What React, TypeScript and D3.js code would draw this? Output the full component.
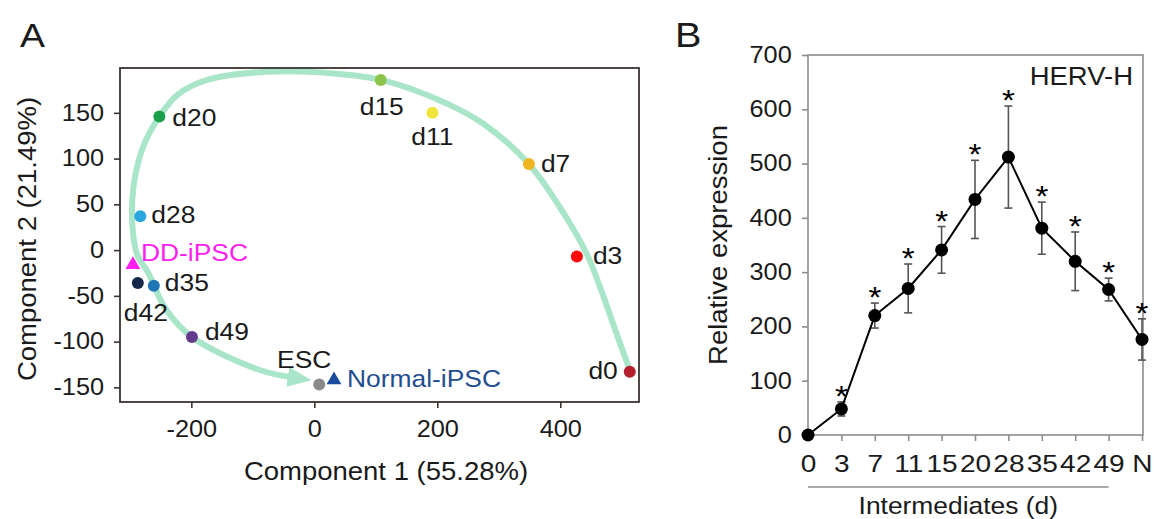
import React, { useEffect, useRef } from "react";
import * as d3 from "d3";

// A: PCA of the reprogramming time course
const samples = ["d0", "d3", "d7", "d11", "d15", "d20", "d28", "d35", "d42", "d49", "ESC", "DD-iPSC", "Normal-iPSC"];
const comp1 = [513, 427, 349, 192, 108, -252, -283, -261, -287, -199, 8, -295, 32];
const comp2 = [-133, -7, 94, 150, 186, 146, 37, -39, -36, -95, -147, -16, -142];
const sampleColors = ["#b3202b", "#fe0b0b", "#f1b522", "#f0e53c", "#8cc44b", "#1c9f4b", "#2aa6e1", "#1f76b4", "#16284a", "#643b8d", "#8a8a8a", "#ff1df0", "#1b4b9c"];
const triangleSamples = ["DD-iPSC", "Normal-iPSC"];
const xTicksA = [-200, 0, 200, 400];
const yTicksA = [-150, -100, -50, 0, 50, 100, 150];

// trajectory arrow (hand drawn in the original figure)
const trajC1 = [514, 494, 465, 445, 414, 349, 275, 216, 162, 108, 13, -78, -174, -222, -252, -280, -296, -289, -270, -241, -199, -89, -27];
const trajC2 = [-133, -96, -41, -7, 31, 94, 138, 160, 175, 186, 194, 195, 186, 170, 146, 110, 55, -3, -25, -65, -95, -131, -140];

// B: HERV-H expression
const days = ["0", "3", "7", "11", "15", "20", "28", "35", "42", "49", "N"];
const expression = [0, 48, 220, 270, 341, 434, 512, 381, 320, 268, 176];
const errors = [0, 13, 23, 45, 43, 72, 94, 48, 54, 21, 38];
const significant = [false, true, true, true, true, true, true, true, true, true, true];
const yTicksB = [0, 100, 200, 300, 400, 500, 600, 700];

const FONT = "'Liberation Sans', Arial, Helvetica, sans-serif";
const SX = 1.1; // the figure's lettering is a bit wider than Arial

// label offsets from the marker: dx, dy, anchor
const placement: Record<string, [number, number, string]> = {
  d0: [-12, 7, "end"],
  d3: [16, 7, "start"],
  d7: [12, 8, "start"],
  d11: [0, 32, "middle"],
  d15: [1, 35, "middle"],
  d20: [13, 10, "start"],
  d28: [11, 7, "start"],
  d35: [11, 5, "start"],
  d42: [8, 38, "middle"],
  d49: [13, 3, "start"],
  ESC: [-15, -17, "middle"],
  "DD-iPSC": [8, -4, "start"],
  "Normal-iPSC": [13, 7, "start"],
};

function label(g: any, txt: string, x: number, y: number, o: any = {}) {
  g.append("text")
    .attr("transform", `translate(${x},${y})${o.rotate ? " rotate(-90)" : ""} scale(${SX},1)`)
    .attr("text-anchor", o.anchor || "start")
    .attr("font-family", FONT)
    .attr("font-size", o.size || 24)
    .attr("fill", o.fill || "#1a1a1a")
    .text(txt);
}

function styleAxis(ax: any, color: string, sx = SX) {
  ax.select(".domain").remove();
  ax.selectAll("line").attr("stroke", color).attr("stroke-width", 1.6);
  ax.selectAll("text")
    .attr("font-family", FONT)
    .attr("font-size", 23)
    .attr("fill", "#1a1a1a")
    .attr("transform", `scale(${sx},1)`);
}

const plain = (d: any) => String(d);

export default function App() {
  const ref = useRef<SVGSVGElement>(null);

  useEffect(() => {
    const svg = d3.select(ref.current);
    svg.selectAll("*").remove();

    // ---------- panel A ----------
    const xA = d3.scaleLinear().domain([-316, 528]).range([120, 639]);
    const yA = d3.scaleLinear().domain([-166, 199]).range([402, 68]);
    const gA = svg.append("g");
    const boxA = "#3b3431";

    svg.append("defs")
      .append("marker")
      .attr("id", "arrow")
      .attr("markerUnits", "userSpaceOnUse")
      .attr("viewBox", "0 0 24 20")
      .attr("markerWidth", 24)
      .attr("markerHeight", 20)
      .attr("refX", 10)
      .attr("refY", 10)
      .attr("orient", "auto")
      .append("path")
      .attr("d", "M0,0 L24,10 L0,20 Z")
      .attr("fill", "#a9e6c9");

    const traj = trajC1.map((c, i) => [c, trajC2[i]] as [number, number]);
    const line = d3
      .line<[number, number]>()
      .x(d => xA(d[0]))
      .y(d => yA(d[1]))
      .curve(d3.curveCatmullRom.alpha(0.5));
    gA.append("path")
      .attr("d", line(traj))
      .attr("fill", "none")
      .attr("stroke", "#a9e6c9")
      .attr("stroke-width", 6)
      .attr("stroke-linecap", "round")
      .attr("marker-end", "url(#arrow)");

    gA.append("rect")
      .attr("x", 120)
      .attr("y", 68)
      .attr("width", 519)
      .attr("height", 334)
      .attr("fill", "none")
      .attr("stroke", boxA)
      .attr("stroke-width", 1.8);

    const axB = gA
      .append("g")
      .attr("transform", "translate(0,402)")
      .call(d3.axisBottom(xA).tickValues(xTicksA).tickFormat(plain).tickSize(6).tickPadding(12.7));
    styleAxis(axB, boxA);
    const axL = gA
      .append("g")
      .attr("transform", "translate(120,0)")
      .call(d3.axisLeft(yA).tickValues(yTicksA).tickFormat(plain).tickSize(6).tickPadding(8.5));
    styleAxis(axL, boxA);

    samples.forEach((s, i) => {
      const px = xA(comp1[i]);
      const py = yA(comp2[i]);
      if (triangleSamples.includes(s)) {
        gA.append("path")
          .attr("d", d3.symbol(d3.symbolTriangle, 95)())
          .attr("transform", `translate(${px},${py})`)
          .attr("fill", sampleColors[i]);
      } else {
        gA.append("circle").attr("cx", px).attr("cy", py).attr("r", 6).attr("fill", sampleColors[i]);
      }
      const [dx, dy, anchor] = placement[s];
      const fill = s === "DD-iPSC" ? "#ff1df0" : s === "Normal-iPSC" ? "#1f4e8f" : "#1a1a1a";
      label(gA, s, px + dx, py + dy, { anchor, fill, size: 24 });
    });

    label(gA, "Component 1 (55.28%)", 386, 480, { anchor: "middle", size: 25 });
    label(gA, "Component 2 (21.49%)", 36, 239, { anchor: "middle", size: 25, rotate: true });
    label(gA, "A", 20, 47, { size: 34 });

    // ---------- panel B ----------
    const xB = d3.scalePoint().domain(days).range([808, 1142]);
    const yB = d3.scaleLinear().domain([0, 700]).range([435, 55]);
    const gB = svg.append("g");
    const grey = "#8d8d8d";

    gB.append("rect")
      .attr("x", 808)
      .attr("y", 55)
      .attr("width", 335)
      .attr("height", 380)
      .attr("fill", "none")
      .attr("stroke", grey)
      .attr("stroke-width", 1.6);

    const bx = gB
      .append("g")
      .attr("transform", "translate(0,435)")
      .call(d3.axisBottom(xB).tickSize(6).tickPadding(14.7));
    styleAxis(bx, grey, 1.22);
    const by = gB
      .append("g")
      .attr("transform", "translate(808,0)")
      .call(d3.axisLeft(yB).tickValues(yTicksB).tickFormat(plain).tickSize(6).tickPadding(8.8));
    styleAxis(by, grey);

    days.forEach((d, i) => {
      if (!errors[i]) return;
      const cx = xB(d)!;
      const top = yB(expression[i] + errors[i]);
      const bot = yB(expression[i] - errors[i]);
      gB.append("line").attr("x1", cx).attr("x2", cx).attr("y1", top).attr("y2", bot).attr("stroke", "#555").attr("stroke-width", 1.6);
      [top, bot].forEach(yy =>
        gB.append("line").attr("x1", cx - 4).attr("x2", cx + 4).attr("y1", yy).attr("y2", yy).attr("stroke", "#555").attr("stroke-width", 1.6)
      );
    });

    const lineB = d3
      .line<number>()
      .x((_, i) => xB(days[i])!)
      .y(v => yB(v));
    gB.append("path").attr("d", lineB(expression)).attr("fill", "none").attr("stroke", "#000").attr("stroke-width", 2);

    days.forEach((d, i) => {
      gB.append("circle").attr("cx", xB(d)!).attr("cy", yB(expression[i])).attr("r", 6.5).attr("fill", "#000");
      if (significant[i]) {
        label(gB, "*", xB(d)!, yB(expression[i] + errors[i]) + 4, { anchor: "middle", size: 30, fill: "#000" });
      }
    });

    gB.append("line")
      .attr("x1", xB("0")!)
      .attr("x2", xB("49")!)
      .attr("y1", 487)
      .attr("y2", 487)
      .attr("stroke", grey)
      .attr("stroke-width", 1.5);

    label(gB, "Intermediates (d)", (xB("0")! + xB("49")!) / 2, 514, { anchor: "middle", size: 24 });
    label(gB, "Relative expression", 727, 245, { anchor: "middle", size: 25, rotate: true });
    label(gB, "HERV-H", 1133, 85, { anchor: "end", size: 25 });
    label(gB, "B", 675, 47, { size: 36 });
  }, []);

  return (
    <svg
      ref={ref}
      width={1154}
      height={519}
      style={{ position: "absolute", left: 0, top: 0, background: "#fff" }}
    />
  );
}
